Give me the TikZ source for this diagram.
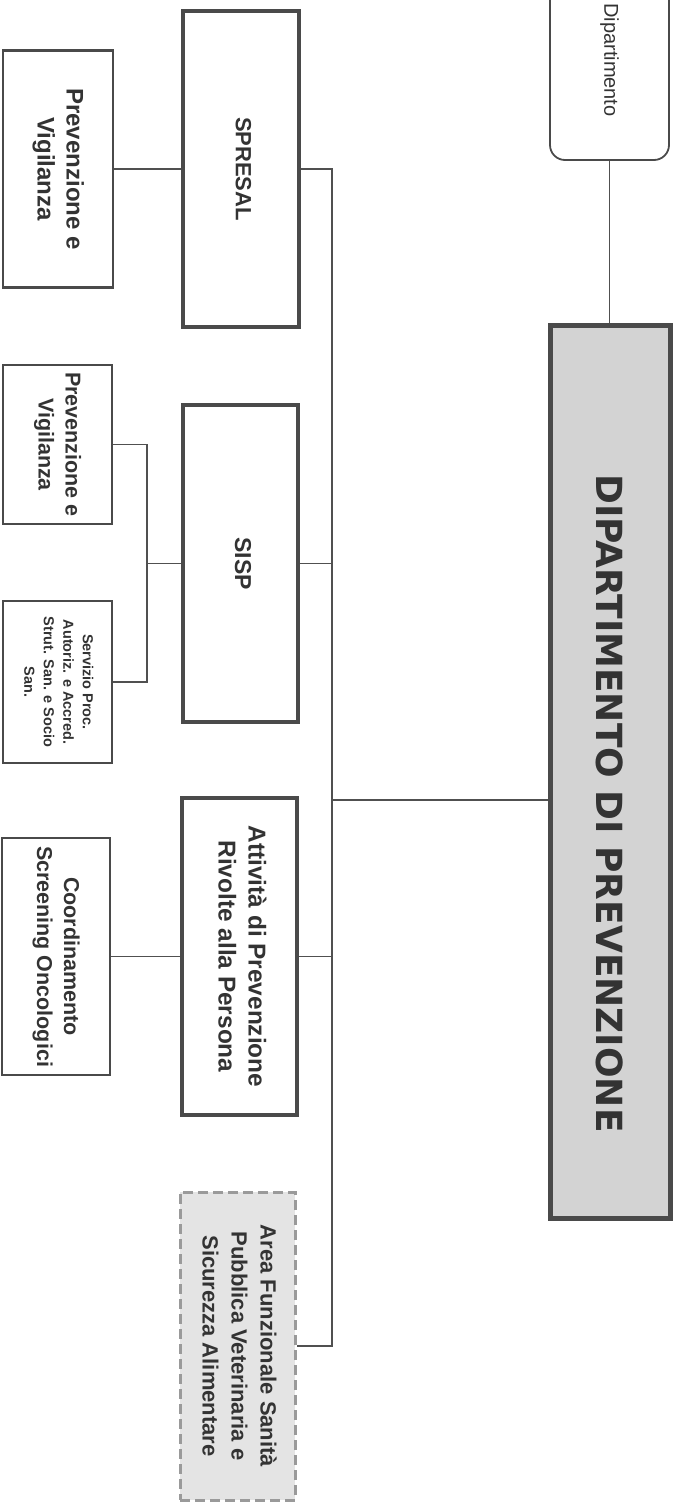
\documentclass[tikz,border=0pt]{standalone}
\usepackage{fontspec}
\usepackage{graphicx}
\setmainfont{Liberation Sans}
\newfontfamily\titlefont{DejaVu Sans}
\definecolor{edge}{HTML}{4A4A4A}
\definecolor{ink}{HTML}{333333}
\definecolor{wire}{HTML}{505050}
\definecolor{mainfill}{HTML}{D3D3D3}
\definecolor{areafill}{HTML}{E4E4E4}
\definecolor{areaedge}{HTML}{9A9A9A}
% vertical (clockwise) multi-line label: size, line pitch, lines
\newcommand{\vlabel}[3]{\rotatebox{-90}{\fontsize{#1}{#2}\selectfont\begin{tabular}{@{}c@{}}#3\end{tabular}}}
\tikzset{
  unit/.style={draw=edge, text=ink, inner sep=0pt, font=\bfseries, fill=white},
  headbox/.style={unit, line width=5pt, fill=mainfill},
  mainunit/.style={unit, line width=4pt},
  subunit/.style={unit, line width=2.5pt},
  areabox/.style={unit, draw=areaedge, line width=3pt, fill=areafill, dash pattern=on 10pt off 5pt},
  deptbox/.style={draw=edge, text=ink, inner sep=0pt, line width=1.8pt, rounded corners=15pt, fill=white},
  link/.style={draw=wire, line width=1.4pt}
}
\begin{document}
\begin{tikzpicture}[x=1pt, y=-1pt]
\useasboundingbox (0,0) rectangle (675,1504);
\fill[white] (0,0) rectangle (675,1504);

% top level
\node[deptbox, minimum width=119pt, minimum height=200pt] (dip) at (609.5,60)
  {\rotatebox{-90}{\fontsize{20}{24}\selectfont Dipartimento}};
\node[headbox, minimum width=120pt, minimum height=893pt] (main) at (610,771.5)
  {\rotatebox{-90}{\titlefont\bfseries\fontsize{36}{42}\selectfont\hspace*{64pt}DIPARTIMENTO DI PREVENZIONE}};

% services
\node[mainunit, minimum width=116pt, minimum height=316pt] (spresal) at (241,169)
  {\vlabel{22}{26}{SPRESAL}};
\node[mainunit, minimum width=115pt, minimum height=317pt] (sisp) at (240.5,563.5)
  {\vlabel{23}{27}{SISP}};
\node[mainunit, minimum width=115pt, minimum height=317pt] (att) at (239.5,956.5)
  {\vlabel{24.4}{30}{Attività di Prevenzione\\Rivolte alla Persona}};
\node[areabox, minimum width=115pt, minimum height=308pt] (area) at (237.5,1346)
  {\vlabel{22}{29}{Area Funzionale Sanità\\Pubblica Veterinaria e\\Sicurezza Alimentare}};

% units
\node[subunit, minimum width=110pt, minimum height=237pt] (pv1) at (58,169)
  {\vlabel{24}{29}{Prevenzione e\\Vigilanza}};
\node[subunit, minimum width=109pt, minimum height=159pt] (pv2) at (57.5,444.5)
  {\vlabel{21.5}{27}{Prevenzione e\\Vigilanza}};
\node[subunit, minimum width=109pt, minimum height=162pt] (serv) at (57.5,682)
  {\vlabel{14.5}{19.5}{Servizio Proc.\\Autoriz. e Accred.\\Strut. San. e Socio\\San.}};
\node[subunit, minimum width=108pt, minimum height=237pt] (coord) at (56,956.5)
  {\vlabel{21.5}{27}{Coordinamento\\Screening Oncologici}};

% connectors
\coordinate (hub) at (332,800);
\coordinate (sub) at (147,563.5);
\draw[link] (dip.south) -- (dip.south |- main.north);
\draw[link] (main.west |- hub) -- (hub);
\draw[link] (spresal.east) -- (spresal.east -| hub) -- (area.east -| hub) -- (area.east);
\draw[link] (sisp.east) -- (sisp.east -| hub);
\draw[link] (att.east) -- (att.east -| hub);
\draw[link] (pv1.east) -- (pv1.east -| spresal.west);
\draw[link] (sisp.west) -- (sub);
\draw[link] (pv2.east) -| (sub);
\draw[link] (serv.east) -| (sub);
\draw[link] (coord.east) -- (coord.east -| att.west);
\end{tikzpicture}
\end{document}
